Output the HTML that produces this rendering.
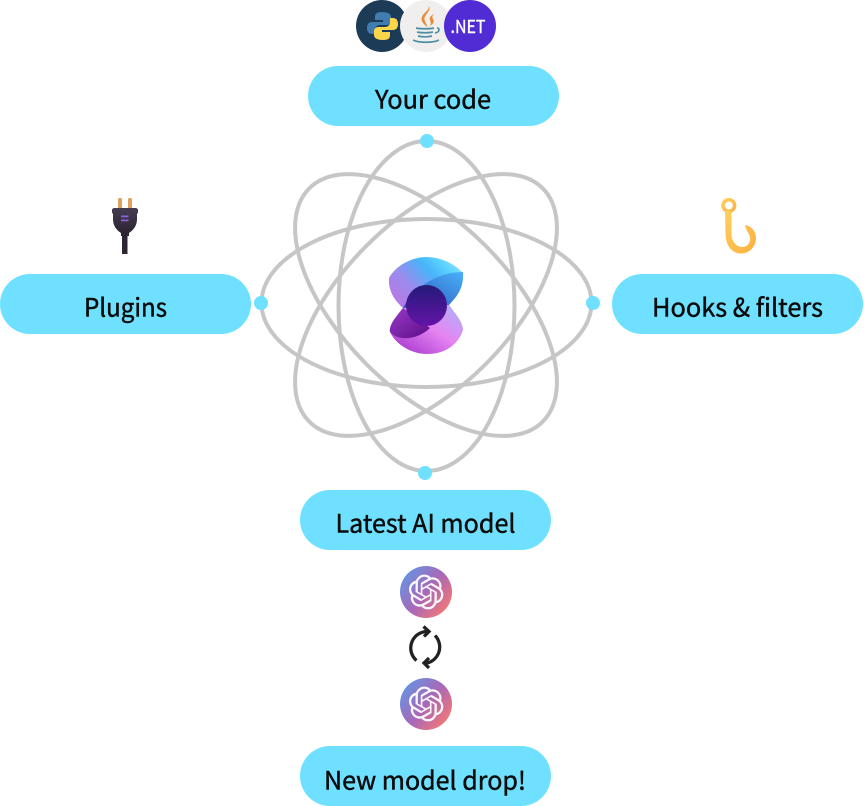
<!DOCTYPE html>
<html><head><meta charset="utf-8"><style>
html,body{margin:0;padding:0;background:#fff}
svg{display:block}
text{font-family:"Noto Sans CJK JP","Liberation Sans",sans-serif;font-weight:400;font-size:25.2px;fill:#0b0b0b;stroke:#0b0b0b;stroke-width:.45;text-anchor:middle}
</style></head><body>
<svg width="864" height="806" viewBox="0 0 864 806" xmlns="http://www.w3.org/2000/svg">
<defs>
<linearGradient id="oa" x1="0" y1="0.1" x2="1" y2="0.9"><stop offset="0" stop-color="#5a9be8"/><stop offset=".5" stop-color="#a868b8"/><stop offset="1" stop-color="#ff7a6a"/></linearGradient>
<linearGradient id="l1" x1="0" y1=".75" x2="1" y2=".1"><stop offset="0" stop-color="#b878e4"/><stop offset=".3" stop-color="#9a8cee"/><stop offset=".6" stop-color="#48b4fa"/><stop offset=".8" stop-color="#5cd4ff"/><stop offset="1" stop-color="#a8e4ff"/></linearGradient>
<linearGradient id="l1b" x1="0" y1="1" x2="1" y2="0"><stop offset="0" stop-color="#2a50b8"/><stop offset="1" stop-color="#4ab0fa"/></linearGradient>
<linearGradient id="l2" x1="0" y1="1" x2="1" y2="0"><stop offset="0" stop-color="#9a2ac8"/><stop offset=".55" stop-color="#e684f2"/><stop offset="1" stop-color="#a8b8f8"/></linearGradient>
<linearGradient id="l2b" x1="0" y1="0" x2="1" y2="1"><stop offset="0" stop-color="#9a3ac8"/><stop offset="1" stop-color="#5a0e86"/></linearGradient>
<linearGradient id="l3" x1="0" y1="0" x2="0" y2="1"><stop offset="0" stop-color="#241a78"/><stop offset="1" stop-color="#6414a8"/></linearGradient>
<linearGradient id="pl" x1="0" y1="0" x2="0" y2="1"><stop offset="0" stop-color="#453c52"/><stop offset="1" stop-color="#2a2230"/></linearGradient>
<linearGradient id="hk" x1="0" y1="0" x2="1" y2="1"><stop offset="0" stop-color="#ffcf5c"/><stop offset="1" stop-color="#fbb040"/></linearGradient>
<g id="oai"><circle r="26" fill="url(#oa)"/><path transform="scale(1.45) translate(-11.9,-12)" fill="#fff" opacity=".95" d="M22.2819 9.8211a5.9847 5.9847 0 0 0-.5157-4.9108 6.0462 6.0462 0 0 0-6.5098-2.9A6.0651 6.0651 0 0 0 4.9807 4.1818a5.9847 5.9847 0 0 0-3.9977 2.9 6.0462 6.0462 0 0 0 .7427 7.0966 5.98 5.98 0 0 0 .511 4.9107 6.051 6.051 0 0 0 6.5146 2.9001A5.9847 5.9847 0 0 0 13.2599 24a6.0557 6.0557 0 0 0 5.7718-4.2058 5.9894 5.9894 0 0 0 3.9977-2.9001 6.0557 6.0557 0 0 0-.7475-7.0729zm-9.022 12.6081a4.4755 4.4755 0 0 1-2.8764-1.0408l.1419-.0804 4.7783-2.7582a.7948.7948 0 0 0 .3927-.6813v-6.7369l2.02 1.1686a.071.071 0 0 1 .038.052v5.5826a4.504 4.504 0 0 1-4.4945 4.4944zm-9.6607-4.1254a4.4708 4.4708 0 0 1-.5346-3.0137l.142.0852 4.783 2.7582a.7712.7712 0 0 0 .7806 0l5.8428-3.3685v2.3324a.0804.0804 0 0 1-.0332.0615L9.74 19.9502a4.4992 4.4992 0 0 1-6.1408-1.6464zM2.3408 7.8956a4.485 4.485 0 0 1 2.3655-1.9728V11.6a.7664.7664 0 0 0 .3879.6765l5.8144 3.3543-2.0201 1.1685a.0757.0757 0 0 1-.071 0l-4.8303-2.7865A4.504 4.504 0 0 1 2.3408 7.872zm16.5963 3.8558L13.1038 8.364 15.1192 7.2a.0757.0757 0 0 1 .071 0l4.8303 2.7913a4.4944 4.4944 0 0 1-.6765 8.1042v-5.6772a.79.79 0 0 0-.407-.667zm2.0107-3.0231l-.142-.0852-4.7735-2.7818a.7759.7759 0 0 0-.7854 0L9.409 9.2297V6.8974a.0662.0662 0 0 1 .0284-.0615l4.8303-2.7866a4.4992 4.4992 0 0 1 6.6802 4.66zM8.3065 12.863l-2.02-1.1638a.0804.0804 0 0 1-.038-.0567V6.0742a4.4992 4.4992 0 0 1 7.3757-3.4537l-.142.0805L8.704 5.459a.7948.7948 0 0 0-.3927.6813zm1.0976-2.3654l2.602-1.4998 2.6069 1.4998v2.9994l-2.5974 1.4997-2.6067-1.4997Z"/></g>
</defs>

<!-- orbits -->
<g fill="none" stroke="#c6c6c6" stroke-width="4">
<ellipse cx="426.5" cy="303" rx="165" ry="84"/>
<ellipse cx="426.5" cy="306" rx="88" ry="165"/>
<ellipse cx="426" cy="305" rx="165" ry="84" transform="rotate(45 426 305)"/>
<ellipse cx="426" cy="305" rx="165" ry="84" transform="rotate(-45 426 305)"/>
</g>
<g fill="#6fe0ff">
<circle cx="427" cy="141" r="7"/><circle cx="261" cy="303" r="7"/><circle cx="593" cy="303" r="7"/><circle cx="425" cy="473" r="7"/>
</g>

<!-- pills -->
<g fill="#6fe0ff">
<rect x="308" y="66" width="251" height="60" rx="30"/>
<rect x="0" y="274" width="251" height="60" rx="30"/>
<rect x="612" y="274" width="251" height="60" rx="30"/>
<rect x="300" y="490" width="251" height="60" rx="30"/>
<rect x="300" y="746" width="251" height="60" rx="30"/>
</g>
<text x="433" y="108.500" textLength="116" lengthAdjust="spacingAndGlyphs">Your code</text>
<text x="125.500" y="316.500" textLength="83" lengthAdjust="spacingAndGlyphs">Plugins</text>
<text x="737.500" y="316.500" textLength="171" lengthAdjust="spacingAndGlyphs">Hooks &amp; filters</text>
<text x="425.500" y="532.500" textLength="180" lengthAdjust="spacingAndGlyphs">Latest AI model</text>
<text x="425" y="789.500" textLength="202" lengthAdjust="spacingAndGlyphs">New model drop!</text>

<!-- language badges -->
<circle cx="382" cy="26" r="26" fill="#1c3b57"/>
<path d="M382 12c-6 0-7 2-7 5v3h8v2h-11c-3 0-5 2-5 6s2 6 5 6h3v-4c0-3 2-5 5-5h7c2 0 4-2 4-4v-4c0-3-3-5-9-5z" fill="#3f7cb0"/>
<path d="M383 40c6 0 7-2 7-5v-3h-8v-2h11c3 0 5-2 5-6s-2-6-5-6h-3v4c0 3-2 5-5 5h-7c-2 0-4 2-4 4v4c0 3 3 5 9 5z" fill="#fbd54a"/>
<circle cx="426" cy="26" r="26" fill="#f0efee"/>
<path d="M429 6c3 6-7 9-4 15 1 2 2 4 2 6-3-3-7-6-5-10 1-4 7-6 7-11zM434 14c-4 2-5 4-4 6 1 3 1 4 0 6 3-2 5-4 3-7-1-2-1-3 1-5z" fill="#e98b3a"/>
<g fill="none" stroke="#4e8ea5" stroke-width="1.700"><path d="M416 28c4 1 14 1 18 0M417 32c4 1 12 1 16 0M418 36c4 1 10 1 14 0M413 40c6 3 20 3 26 0M437 28c3 0 3 4-2 5"/></g>
<circle cx="470" cy="26" r="26" fill="#512bd4"/>
<text x="468" y="33" textLength="35" lengthAdjust="spacingAndGlyphs" style="font-size:18px;fill:#fff;stroke:#fff;stroke-width:.4">.NET</text>

<!-- plug -->
<rect x="118" y="198" width="4" height="11" rx="1.500" fill="#e0a060"/>
<rect x="128" y="198" width="4" height="11" rx="1.500" fill="#e0a060"/>
<path d="M115 208h20c2 0 3 1 3 2v2c0 1-1 2-1 2v5c0 8-5 12-8 14v3h-8v-3c-3-2-8-6-8-14v-5c0 0-1-1-1-2v-2c0-1 1-2 3-2z" fill="url(#pl)"/>
<rect x="121" y="215.500" width="7.500" height="1.800" fill="#8a5fe0"/><rect x="121" y="219.500" width="7.500" height="1.800" fill="#8a5fe0"/>
<rect x="122" y="234" width="5.500" height="20" fill="#2c2632"/>

<!-- hook -->
<circle cx="728.800" cy="205.500" r="5.800" fill="none" stroke="url(#hk)" stroke-width="3.500"/>
<path d="M725 211h6.500v22c0 10 6 14 10.500 14 6 0 9-5 8-10-1-4-4-6-5-12 7 1 11 7 11 13 0 9-7 15.500-15 15.500-10 0-15.500-9.500-15.500-19.500z" fill="url(#hk)"/>

<!-- logo -->
<path d="M389 278C396 265 413 257 426 257C442 257 456 265 463 273C464 290 455 298 449 305L403 308C394 300 388 290 389 278Z" fill="url(#l1)"/>
<path d="M403 308C395 318 389 325 390 332C396 345 412 354 427 354C445 354 458 345 463 330C463 322 455 313 449 305Z" fill="url(#l2)"/>
<path d="M403 308C412 290 435 272 463 272C464 290 455 298 449 305Z" fill="url(#l1b)"/>
<path d="M403 308C395 318 389 325 390 332C400 343 420 338 430 328Z" fill="url(#l2b)"/>
<circle cx="426.500" cy="305.500" r="20.500" fill="url(#l3)"/>

<!-- openai -->
<use href="#oai" x="426" y="592"/>
<use href="#oai" x="426" y="704"/>

<!-- cycle -->
<g fill="none" stroke="#222" stroke-width="3.300">
<path d="M416.500 660.500A16.500 16.500 0 0 1 428 631.500"/>
<path d="M423.500 626.500L429 631.500L424 636.500"/>
<path d="M435 635.500A16.500 16.500 0 0 1 424 663.500"/>
<path d="M429 658L424 663L429 668"/>
</g>
</svg>
</body></html>
